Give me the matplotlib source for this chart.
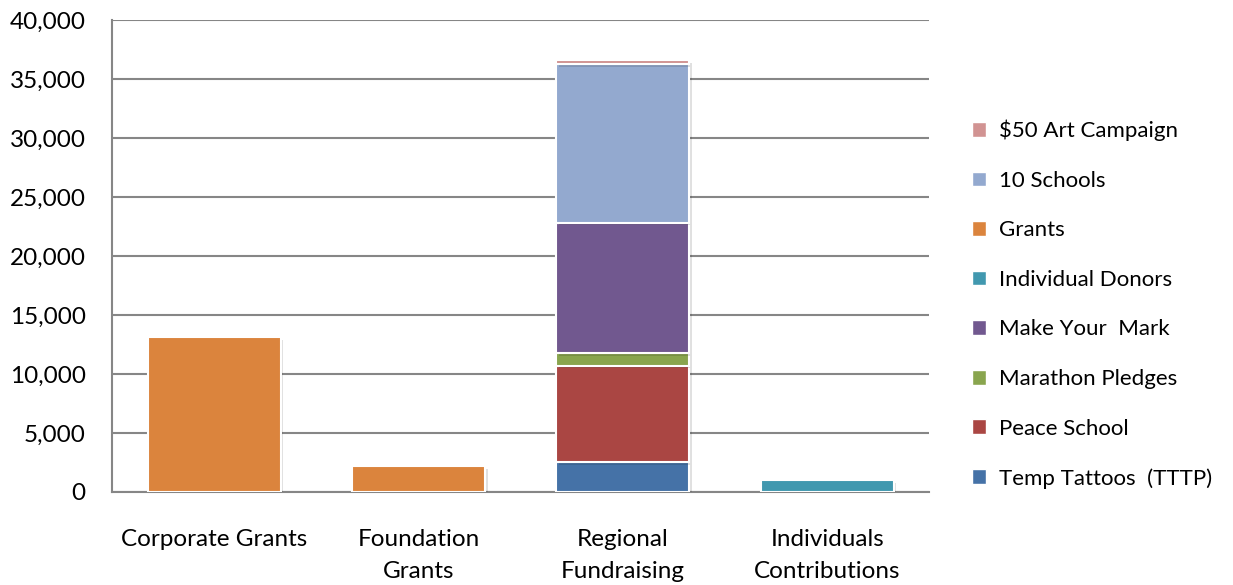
import numpy as np
import matplotlib
matplotlib.use("Agg")
import matplotlib.pyplot as plt
from matplotlib.patches import Patch
from matplotlib.ticker import FuncFormatter
import matplotlib.patheffects as pe

plt.rcParams['font.family'] = ['Lato', 'DejaVu Sans']

groups = ["Corporate Grants", "Foundation\nGrants", "Regional\nFundraising", "Individuals\nContributions"]

# stacked bottom to top
series = ["Temp Tattoos  (TTTP)", "Peace School", "Marathon Pledges", "Make Your  Mark",
          "Individual Donors", "Grants", "10 Schools", "$50 Art Campaign"]
temp_tattoos = [0, 0, 2500, 0]
peace_school = [0, 0, 8200, 0]
marathon = [0, 0, 1070, 0]
make_your_mark = [0, 0, 11050, 0]
individual_donors = [0, 0, 0, 1000]
grants = [13100, 2200, 0, 0]
ten_schools = [0, 0, 13450, 0]
art_campaign = [0, 0, 300, 0]
values = [temp_tattoos, peace_school, marathon, make_your_mark,
          individual_donors, grants, ten_schools, art_campaign]
colors = ["#4572A7", "#AA4643", "#89A54E", "#71588F",
          "#4198AF", "#DB843D", "#93A9CF", "#D19392"]

fig = plt.figure(figsize=(12.33, 5.85), dpi=100)
ax = fig.add_axes([0.0908, 0.159, 0.663, 0.807])

x = np.arange(len(groups))
bottom = np.zeros(len(groups))
shadow = [pe.SimplePatchShadow(offset=(2, -2), shadow_rgbFace="#000000", alpha=0.12), pe.Normal()]
for name, vals, col in zip(series, values, colors):
    vals = np.array(vals, dtype=float)
    idx = vals > 0
    bars = ax.bar(x[idx], vals[idx], bottom=bottom[idx], width=0.65, color=col,
                  edgecolor="white", linewidth=1.5, zorder=3)
    for b in bars:
        b.set_path_effects(shadow)
    bottom += vals

ax.set_xlim(-0.5, 3.5)
ax.set_ylim(0, 40000)
ax.set_yticks(np.arange(0, 40001, 5000))
ax.yaxis.set_major_formatter(FuncFormatter(lambda v, p: f"{int(v):,}"))
ax.yaxis.grid(True, color="#868686", linewidth=1.5, zorder=0)
ax.set_axisbelow(True)
ax.set_xticks(x)
ax.set_xticklabels(groups, fontsize=17.5, linespacing=1.62)
ax.tick_params(axis='x', length=0, pad=27)
ax.tick_params(axis='y', labelsize=17.5, length=0, pad=19)
for s in ["top", "right"]:
    ax.spines[s].set_visible(False)
for s in ["left", "bottom"]:
    ax.spines[s].set_color("#868686")
    ax.spines[s].set_linewidth(1.5)

handles = [Patch(facecolor=c, edgecolor="white") for c in colors][::-1]
labels = series[::-1]
fig.legend(handles, labels, loc="center left", bbox_to_anchor=(0.779, 0.48),
           frameon=False, fontsize=16, handlelength=0.65, handleheight=0.65,
           handletextpad=0.6, labelspacing=1.33, borderpad=0)

fig.savefig("out.png", dpi=100)
